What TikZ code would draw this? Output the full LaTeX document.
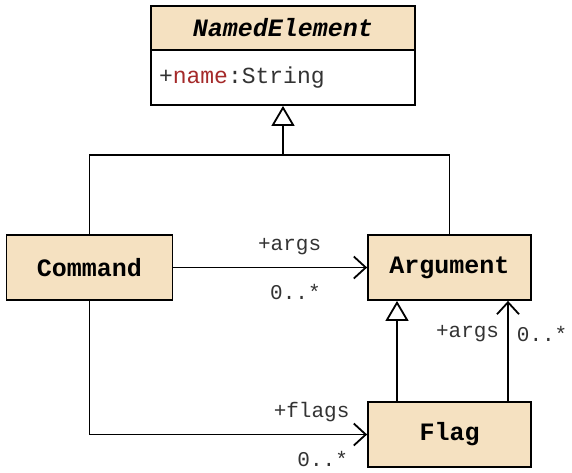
\documentclass[tikz,border=0pt]{standalone}
\usepackage{fontspec}
\setmonofont{Liberation Mono}
\usepackage{xcolor}
\usetikzlibrary{
    arrows.meta,
    positioning
}

\definecolor{classfill}{HTML}{F5E1C1}
\definecolor{attrname}{HTML}{A52A2A}
\definecolor{labeltext}{HTML}{333333}

\begin{document}
\begin{tikzpicture}[
    x=0.5pt,
    y=-0.5pt,
    font=\ttfamily,
    classbox/.style={
        rectangle,
        draw=black,
        line width=0.9pt,
        fill=classfill,
        align=center,
        font=\ttfamily\bfseries\fontsize{12.5}{14}\selectfont,
        minimum width=83pt,
        minimum height=32.5pt
    },
    attrbox/.style={
        rectangle,
        draw=black,
        line width=0.9pt,
        fill=white,
        align=left,
        font=\ttfamily\fontsize{11.5}{13}\selectfont,
        text=labeltext,
        text width=124pt,
        minimum height=27.5pt
    },
    line/.style={
        line width=0.9pt,
        draw=black
    },
    generalize/.style={
        line,
        -{Triangle[open,length=10pt,width=11.5pt]}
    },
    assoc/.style={
        line,
        -{Straight Barb[length=6pt,width=11pt]}
    },
    mult/.style={
        font=\ttfamily\fontsize{10.5}{12}\selectfont,
        text=labeltext,
        inner sep=1pt
    }
]
\useasboundingbox (0,0) rectangle (572,472);

% =========================================================
% Classes
% =========================================================
\node[classbox, minimum width=132pt, minimum height=22pt, outer sep=0pt,
    font=\ttfamily\bfseries\itshape\fontsize{12.5}{14}\selectfont]
    (named) at (283,28) {NamedElement};
\node[attrbox, minimum width=132pt, outer sep=0pt, anchor=north] (namedattr) at (named.south)
{+\textcolor{attrname}{name}:String};

\node[classbox] (command) at (89.5,267.5) {Command};
\node[classbox, minimum width=81.5pt] (argument) at (449.5,267.5) {Argument};
\node[classbox, minimum width=81.5pt] (flag) at (449.5,434.5) {Flag};

% =========================================================
% Generalizations
% =========================================================
\coordinate (split) at (283,155);
\draw[line] (command.north) |- (split);
\draw[line] (argument.north) |- (split);
\draw[generalize] (split) -- ([yshift=-0.45pt]namedattr.south);

\draw[generalize] ([xshift=-26.25pt]flag.north) -- ([xshift=-26.25pt]argument.south);

% =========================================================
% Associations
% =========================================================
\draw[assoc] (command) -- (argument)
    node[pos=0.6, above=5pt, mult] {+args}
    node[pos=0.63, below=7pt, mult] {0..*};

\draw[assoc] (command.south) |- (flag.west)
    node[pos=0.9, above=5pt, mult] {+flags}
    node[pos=0.92, below=7pt, mult] {0..*};

\draw[assoc] ([xshift=29.25pt]flag.north) -- ([xshift=29.25pt]argument.south)
    node[pos=0.67, left=3pt, mult] {+args}
    node[pos=0.67, right=3pt, mult] {0..*};

\end{tikzpicture}
\end{document}
